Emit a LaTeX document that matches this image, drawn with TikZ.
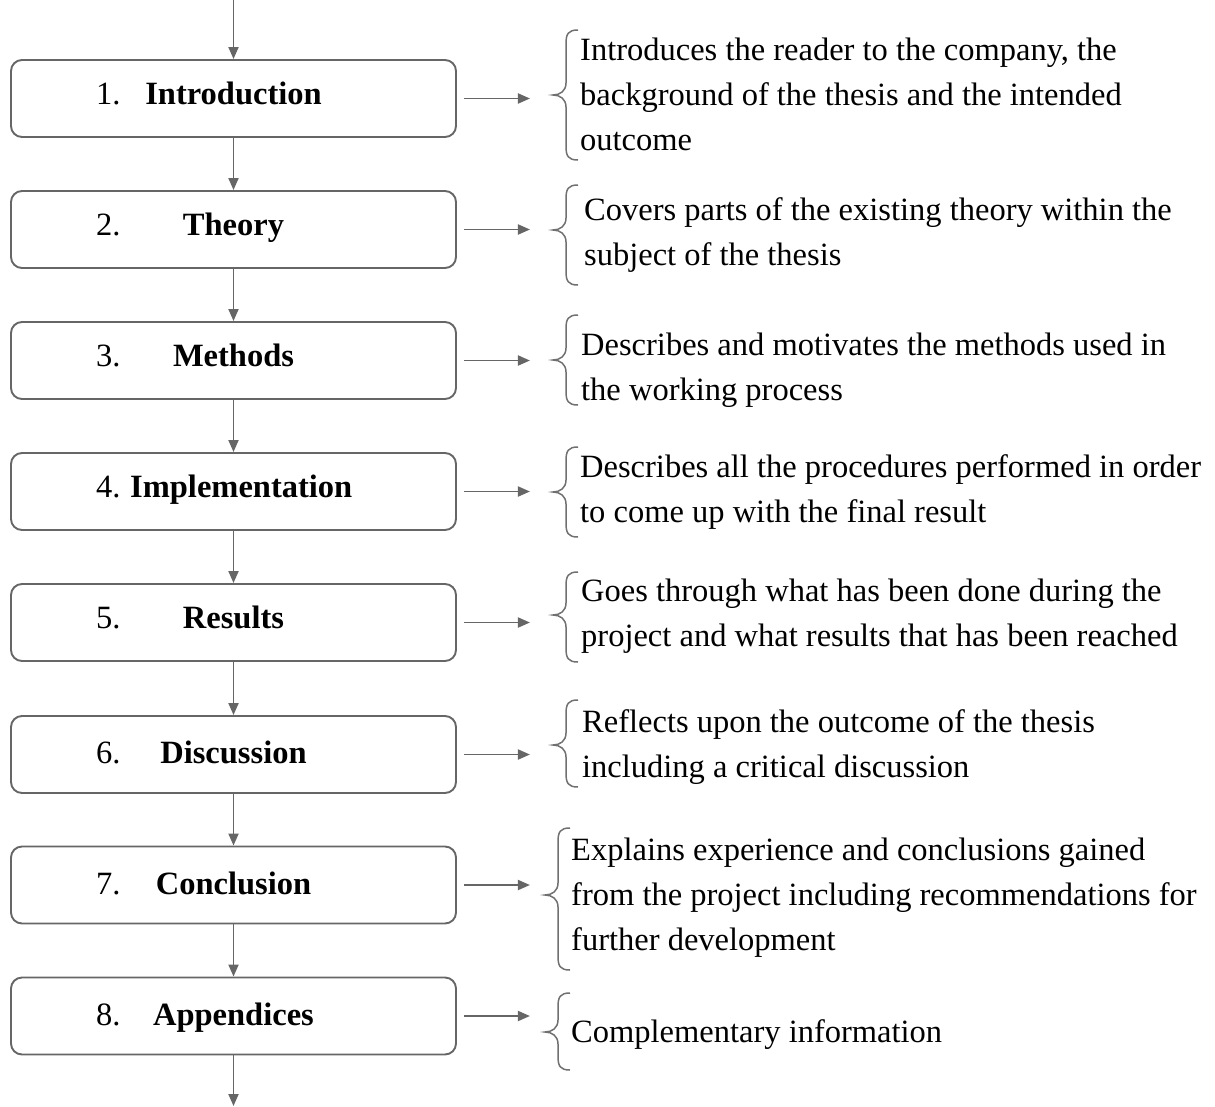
\documentclass[tikz,border=0pt]{standalone}
\usepackage{fontspec}
\setmainfont{Liberation Serif}
\usetikzlibrary{arrows.meta}
\definecolor{linegray}{HTML}{666666}
\definecolor{bracegray}{HTML}{707070}
\newcommand\descbrace[4]{% stem x, top y, tip y, bottom y
  \draw[bracestroke] ({#1+12},{#2}) .. controls ({#1+2},{#2}) and ({#1},{#2+4}) .. ({#1},{#2+14})
    -- ({#1},{#3-12}) .. controls ({#1},{#3-4}) and ({#1-6},{#3}) .. ({#1-13},{#3})
    .. controls ({#1-6},{#3}) and ({#1},{#3+4}) .. ({#1},{#3+12})
    -- ({#1},{#4-14}) .. controls ({#1},{#4-4}) and ({#1+2},{#4}) .. ({#1+12},{#4});}
\begin{document}
\begin{tikzpicture}[x=1pt,y=-1pt,
  flow/.style={draw=linegray, line width=1.9, -{Triangle[length=12,width=10]}},
  stagebox/.style={draw=linegray, line width=1.9, rounded corners=11,
    minimum width=445, minimum height=77, inner sep=0},
  stagenum/.style={anchor=base west, inner sep=0, font=\fontsize{32.5}{40}\selectfont},
  stagetitle/.style={anchor=base, inner sep=0, font=\fontsize{32.5}{40}\selectfont\bfseries},
  desc/.style={anchor=base west, inner sep=0, align=left, font=\fontsize{32.5}{45}\selectfont},
  bracestroke/.style={draw=bracegray, line width=1.5}]
\useasboundingbox (0,0) rectangle (1215,1106);

% stage boxes
\foreach \i/\y in {1/98.5,2/229.5,3/360.5,4/491.5,5/622.5,6/754.5,7/885,8/1016}
  \node[stagebox] (b\i) at (233.5,\y) {};

% numbers and titles
\node[stagenum] (n1) at (96,104) {1.};
\node[stagetitle] (t1) at (233.5,104) {Introduction};
\node[stagenum] (n2) at (96,235) {2.};
\node[stagetitle] (t2) at (233.5,235) {Theory};
\node[stagenum] (n3) at (96,366) {3.};
\node[stagetitle] (t3) at (233.5,366) {Methods};
\node[stagenum] (n4) at (96,497) {4.};
\node[stagetitle, anchor=base west] (t4) at (130,497) {Implementation};
\node[stagenum] (n5) at (96,628) {5.};
\node[stagetitle] (t5) at (233.5,628) {Results};
\node[stagenum] (n6) at (96,763) {6.};
\node[stagetitle] (t6) at (233.5,763) {Discussion};
\node[stagenum] (n7) at (96,894) {7.};
\node[stagetitle] (t7) at (233.5,894) {Conclusion};
\node[stagenum] (n8) at (96,1025) {8.};
\node[stagetitle] (t8) at (233.5,1025) {Appendices};

% vertical flow
\coordinate (start) at (233.5,0);
\coordinate (finish) at (233.5,1106);
\draw[flow] (start) -- (b1.north);
\foreach \i [evaluate=\i as \j using int(\i+1)] in {1,...,7}
  \draw[flow] (b\i.south) -- (b\j.north);
\draw[flow] (b8.south) -- (finish);

% side arrows pointing at the braces
\foreach \i in {1,...,8}{
  \coordinate (a\i) at ([xshift=73]b\i.east);
  \draw[flow] ([xshift=7]b\i.east) -- (a\i);
}

% braces
\descbrace{566}{30}{95}{160}
\descbrace{566}{185}{230}{285}
\descbrace{566}{315}{360}{405}
\descbrace{566}{447}{492}{537}
\descbrace{566}{572}{615}{662}
\descbrace{566}{700}{745}{787}
\descbrace{558}{828}{895}{970}
\descbrace{558}{993}{1032}{1070}

% descriptions (anchored at the baseline of their last line)
\node[desc] (d1) at (580,150) {Introduces the reader to the company, the\\background of the thesis and the intended\\outcome};
\node[desc] (d2) at (584,265) {Covers parts of the existing theory within the\\subject of the thesis};
\node[desc] (d3) at (581,400) {Describes and motivates the methods used in\\the working process};
\node[desc] (d4) at (580,522) {Describes all the procedures performed in order\\to come up with the final result};
\node[desc] (d5) at (581,646) {Goes through what has been done during the\\project and what results that has been reached};
\node[desc] (d6) at (582,777) {Reflects upon the outcome of the thesis\\including a critical discussion};
\node[desc] (d7) at (571,950) {Explains experience and conclusions gained\\from the project including recommendations for\\further development};
\node[desc] (d8) at (571,1042) {Complementary information};
\end{tikzpicture}
\end{document}
